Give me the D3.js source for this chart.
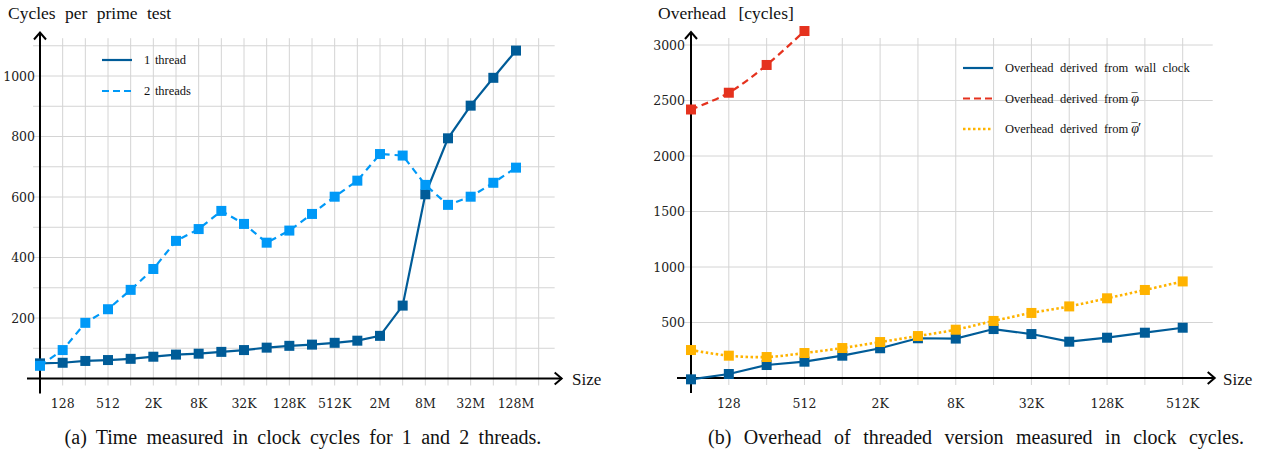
<!DOCTYPE html>
<html>
<head>
<meta charset="utf-8">
<script src="https://cdn.jsdelivr.net/npm/d3@7"></script>
<style>
  body { margin: 0; background: #fff; }
  svg { display: block; }
  .serif { font-family: 'Liberation Serif', 'Times New Roman', Times, serif; fill: #111; }
  .tick { font-family: 'DejaVu Serif', 'Liberation Serif', serif; font-size: 12.5px; fill: #222; }
</style>
</head>
<body>
<svg id="chart" width="1276" height="459"></svg>
<script>
// left chart: cycles per prime test
const sizesA = ['64', '128', '256', '512', '1K', '2K', '4K', '8K', '16K', '32K', '64K', '128K',
  '256K', '512K', '1M', '2M', '4M', '8M', '16M', '32M', '64M', '128M'];
const labelsA = ['128', '512', '2K', '8K', '32K', '128K', '512K', '2M', '8M', '32M', '128M'];
const oneThread = [50, 52, 58, 61, 65, 72, 79, 82, 88, 94, 102, 108, 112, 118, 125, 141, 241, 609, 794, 902, 994, 1084];
const twoThreads = [42, 94, 184, 229, 293, 362, 455, 494, 554, 511, 449, 489, 544, 601, 654, 742, 737, 640, 574, 601, 647, 697];
const ticksA = [200, 400, 600, 800, 1000];

// right chart: overhead
const sizesB = ['64', '128', '256', '512', '1K', '2K', '4K', '8K', '16K', '32K', '64K', '128K', '256K', '512K'];
const labelsB = ['128', '512', '2K', '8K', '32K', '128K', '512K'];
const wallClock = [-12, 36, 117, 147, 201, 268, 358, 355, 441, 396, 327, 363, 408, 453];
const phiBar = [2419, 2570, 2820, 3126];
const phiBarPrime = [252, 201, 189, 225, 270, 324, 378, 435, 514, 586, 645, 718, 793, 870];
const ticksB = [500, 1000, 1500, 2000, 2500, 3000];

const darkBlue = '#005c98';
const lightBlue = '#0099f7';
const red = '#e5321e';
const yellow = '#ffb300';

const svg = d3.select('#chart');

function arrowAxes(g, x0, x1, y0, y1, ox, oy) {
  // x axis
  g.append('line').attr('x1', x0).attr('x2', x1).attr('y1', oy).attr('y2', oy)
    .attr('stroke', '#000').attr('stroke-width', 2);
  g.append('path').attr('d', `M${x1 - 7},${oy - 6}L${x1},${oy}L${x1 - 7},${oy + 6}`)
    .attr('fill', 'none').attr('stroke', '#000').attr('stroke-width', 2);
  // y axis
  g.append('line').attr('x1', ox).attr('x2', ox).attr('y1', y0).attr('y2', y1)
    .attr('stroke', '#000').attr('stroke-width', 2);
  g.append('path').attr('d', `M${ox - 6},${y1 + 7}L${ox},${y1}L${ox + 6},${y1 + 7}`)
    .attr('fill', 'none').attr('stroke', '#000').attr('stroke-width', 2);
}

function series(g, x, y, data, color, dash, width, curve) {
  const line = d3.line().x((d, i) => x(i)).y(d => y(d)).curve(curve || d3.curveLinear);
  g.append('path').datum(data).attr('d', line)
    .attr('fill', 'none').attr('stroke', color).attr('stroke-width', width)
    .attr('stroke-dasharray', dash);
  g.selectAll(null).data(data).join('rect')
    .attr('x', (d, i) => x(i) - 5).attr('y', d => y(d) - 5)
    .attr('width', 10).attr('height', 10).attr('fill', color);
}

function legend(g, x0, y0, gap, ws, items) {
  items.forEach((it, k) => {
    const yy = y0 + k * gap;
    g.append('line').attr('x1', x0).attr('x2', x0 + 30).attr('y1', yy).attr('y2', yy)
      .attr('stroke', it.color).attr('stroke-width', it.width).attr('stroke-dasharray', it.dash);
    const t = g.append('text').attr('class', 'serif').attr('x', x0 + 42).attr('y', yy + 4)
      .attr('font-size', 12.5).attr('word-spacing', ws);
    t.append('tspan').text(it.label);
    if (it.math) {
      // varphi with a bar on top, then optional prime
      t.append('tspan').attr('font-style', 'italic').attr('font-size', 14).attr('dx', 3).text('φ');
      t.append('tspan').attr('font-size', 12).attr('dx', -7.5).attr('dy', -1).text('\u00AF');
      if (it.prime) t.append('tspan').attr('font-size', 15).attr('dx', 0.5).attr('dy', 1).text('\u2032');
    }
  });
}

// ---------- chart (a) ----------
{
  const g = svg.append('g');
  const x = d3.scaleLinear().domain([0, 21]).range([40, 516]);
  const y = d3.scaleLinear().domain([0, 1000]).range([378.5, 76]);

  const gx = d3.range(0, 23);
  const gy = d3.range(100, 1200, 100);
  g.selectAll(null).data(gx).join('line')
    .attr('x1', d => x(d)).attr('x2', d => x(d)).attr('y1', y(1125)).attr('y2', y(0) + 7)
    .attr('stroke', '#d4d4d4').attr('stroke-width', 1);
  g.selectAll(null).data(gy).join('line')
    .attr('x1', x(0) - 7).attr('x2', x(22) + 16).attr('y1', d => y(d)).attr('y2', d => y(d))
    .attr('stroke', '#d4d4d4').attr('stroke-width', 1);

  arrowAxes(g, x(0) - 13, x(22) + 23, y(0) + 15, y(0) - 346, x(0), y(0));

  g.selectAll(null).data(ticksA).join('text').attr('class', 'tick')
    .attr('x', x(0) - 5).attr('y', d => y(d) + 4.5).attr('text-anchor', 'end')
    .text(d => d);
  g.selectAll(null).data(labelsA).join('text').attr('class', 'tick')
    .attr('x', d => x(sizesA.indexOf(d))).attr('y', 408).attr('text-anchor', 'middle')
    .text(d => d);

  g.append('text').attr('class', 'serif').attr('x', 8).attr('y', 19)
    .attr('font-size', 17.5).attr('word-spacing', 5).text('Cycles per prime test');
  g.append('text').attr('class', 'serif').attr('x', 572).attr('y', 385)
    .attr('font-size', 17).text('Size');

  series(g, x, y, oneThread, darkBlue, null, 2.2);
  series(g, x, y, twoThreads, lightBlue, '7,5', 2.2);

  legend(g, 102, 60, 31, 1.5, [
    { label: '1 thread', color: darkBlue, width: 2.2 },
    { label: '2 threads', color: lightBlue, width: 2.2, dash: '7,4' }
  ]);

  g.append('text').attr('class', 'serif').attr('x', 303).attr('y', 444).attr('text-anchor', 'middle')
    .attr('font-size', 20).attr('word-spacing', 4.3)
    .text('(a) Time measured in clock cycles for 1 and 2 threads.');
}

// ---------- chart (b) ----------
{
  const g = svg.append('g');
  const x = d3.scaleLinear().domain([0, 13]).range([691, 1182.7]);
  const y = d3.scaleLinear().domain([0, 3000]).range([378, 45]);

  const gx = d3.range(0, 14);
  g.selectAll(null).data(gx).join('line')
    .attr('x1', d => x(d)).attr('x2', d => x(d)).attr('y1', y(3000) - 7).attr('y2', y(0) + 7)
    .attr('stroke', '#d4d4d4').attr('stroke-width', 1);
  g.selectAll(null).data(ticksB).join('line')
    .attr('x1', x(0) - 7).attr('x2', x(13) + 30).attr('y1', d => y(d)).attr('y2', d => y(d))
    .attr('stroke', '#d4d4d4').attr('stroke-width', 1);

  arrowAxes(g, x(0) - 14, x(13) + 32, y(0) + 15, y(0) - 346, x(0), y(0));

  g.selectAll(null).data(ticksB).join('text').attr('class', 'tick')
    .attr('x', x(0) - 6).attr('y', d => y(d) + 4.5).attr('text-anchor', 'end')
    .text(d => d);
  g.selectAll(null).data(labelsB).join('text').attr('class', 'tick')
    .attr('x', d => x(sizesB.indexOf(d))).attr('y', 408).attr('text-anchor', 'middle')
    .text(d => d);

  g.append('text').attr('class', 'serif').attr('x', 658).attr('y', 19)
    .attr('font-size', 17.5).attr('word-spacing', 8).text('Overhead [cycles]');
  g.append('text').attr('class', 'serif').attr('x', 1223).attr('y', 385)
    .attr('font-size', 17).text('Size');

  series(g, x, y, wallClock, darkBlue, null, 2.2);
  series(g, x, y, phiBar, red, '7,4.5', 2.2, d3.curveCatmullRom);
  series(g, x, y, phiBarPrime, yellow, '2.5,2.5', 2.6, d3.curveCatmullRom);

  legend(g, 963, 68, 30.5, 3.3, [
    { label: 'Overhead derived from wall clock', color: darkBlue, width: 2.2 },
    { label: 'Overhead derived from', math: true, color: red, width: 2.2, dash: '7,4' },
    { label: 'Overhead derived from', math: true, prime: true, color: yellow, width: 2.6, dash: '2.5,2.5' }
  ]);

  g.append('text').attr('class', 'serif').attr('x', 976).attr('y', 444).attr('text-anchor', 'middle')
    .attr('font-size', 20).attr('word-spacing', 7.5)
    .text('(b) Overhead of threaded version measured in clock cycles.');
}
</script>
</body>
</html>
